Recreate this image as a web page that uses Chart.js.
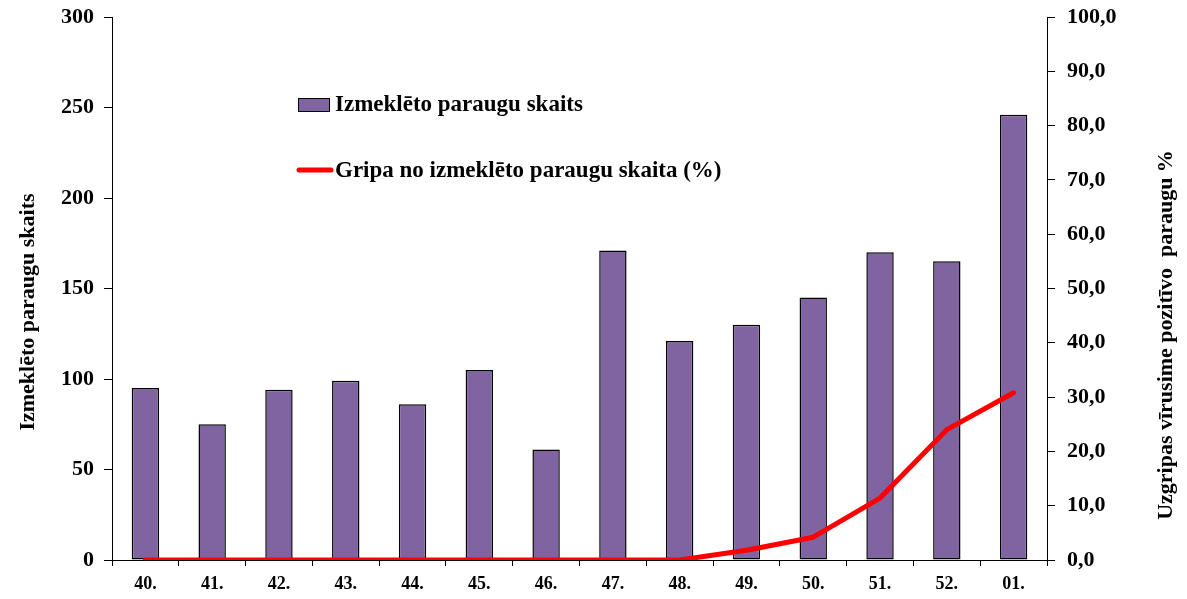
<!DOCTYPE html>
<html>
<head>
<meta charset="utf-8">
<script src="https://cdn.jsdelivr.net/npm/chart.js@4"></script>
<style>
html, body { margin: 0; padding: 0; background: #fff; }
#wrap { position: relative; width: 1187px; height: 599px; }
</style>
</head>
<body>
<div id="wrap"><canvas id="chart" width="1187" height="599"></canvas></div>
<script>
var weeks = ["40.", "41.", "42.", "43.", "44.", "45.", "46.", "47.", "48.", "49.", "50.", "51.", "52.", "01."];
var samples = [95, 75, 94, 99, 86, 105, 61, 171, 121, 130, 145, 170, 165, 246];
var positivePct = [0, 0, 0, 0, 0, 0, 0, 0, 0, 1.8, 4.2, 11.4, 24.0, 30.8];
var seriesNames = ["Izmeklēto paraugu skaits", "Gripa no izmeklēto paraugu skaita (%)"];
var leftTitle = "Izmeklēto paraugu skaits";
var rightTitle = "Uzgripas vīrusime pozitīvo  paraugu %";

var serif = '"Liberation Serif", "Times New Roman", serif';

// axis titles and in-plot legend
var extras = {
  id: 'extras',
  afterDraw: function(chart) {
    var c = chart.ctx;
    c.save();
    c.fillStyle = '#000';
    c.textBaseline = 'middle';
    c.font = 'bold 22px ' + serif;
    c.textAlign = 'center';
    c.save();
    c.translate(28, 312);
    c.rotate(-Math.PI / 2);
    c.fillText(leftTitle, 0, 0);
    c.restore();
    c.save();
    c.translate(1166, 335);
    c.rotate(-Math.PI / 2);
    c.fillText(rightTitle, 0, 0);
    c.restore();

    // legend
    c.textAlign = 'left';
    c.font = 'bold 23px ' + serif;
    c.fillStyle = '#8064A2';
    c.fillRect(298, 98, 32, 14);
    c.strokeStyle = '#000';
    c.lineWidth = 1;
    c.strokeRect(298.5, 98.5, 31, 13);
    c.fillStyle = '#000';
    c.fillText(seriesNames[0], 335, 105);
    c.strokeStyle = '#FF0000';
    c.lineWidth = 5;
    c.lineCap = 'round';
    c.beginPath();
    c.moveTo(299, 170);
    c.lineTo(331, 170);
    c.stroke();
    c.fillText(seriesNames[1], 335, 171);
    c.restore();
  }
};

function noPad(s) {
  s.paddingTop = 0;
  s.paddingBottom = 0;
}

new Chart(document.getElementById('chart'), {
  type: 'bar',
  data: {
    labels: weeks,
    datasets: [{
      type: 'line',
      label: seriesNames[1],
      data: positivePct,
      yAxisID: 'y2',
      borderColor: '#FF0000',
      borderWidth: 5,
      borderCapStyle: 'round',
      borderJoinStyle: 'round',
      pointRadius: 0,
      tension: 0,
      fill: false,
      order: 0
    }, {
      label: seriesNames[0],
      data: samples,
      yAxisID: 'y',
      backgroundColor: '#8064A2',
      borderColor: '#000',
      borderWidth: 1.5,
      borderSkipped: false,
      categoryPercentage: 1,
      barPercentage: 0.41,
      order: 1
    }]
  },
  options: {
    responsive: false,
    animation: false,
    layout: { padding: { top: 17, left: 0, right: 0, bottom: 0 } },
    plugins: { legend: { display: false }, tooltip: { enabled: false } },
    scales: {
      x: {
        offset: true,
        grid: { offset: true, drawOnChartArea: false, drawTicks: true, tickLength: 6, color: '#000' },
        border: { display: true, color: '#000', width: 1 },
        ticks: { color: '#000', font: { family: serif, size: 18, weight: 'bold' }, padding: 8, maxRotation: 0 },
        afterFit: function(s) { s.height = 39; }
      },
      y: {
        position: 'left',
        min: 0, max: 300,
        grid: { drawOnChartArea: false, drawTicks: true, tickLength: 8, color: '#000' },
        border: { display: true, color: '#000', width: 1 },
        ticks: { stepSize: 50, color: '#000', font: { family: serif, size: 22, weight: 'bold' }, padding: 10 },
        afterFit: function(s) { s.width = 112; noPad(s); }
      },
      y2: {
        position: 'right',
        min: 0, max: 100,
        grid: { drawOnChartArea: false, drawTicks: true, tickLength: 8, color: '#000' },
        border: { display: true, color: '#000', width: 1 },
        ticks: {
          stepSize: 10, color: '#000', font: { family: serif, size: 22, weight: 'bold' }, padding: 12,
          callback: function(v) { return v.toFixed(1).replace('.', ','); }
        },
        afterFit: function(s) { s.width = 140; noPad(s); }
      }
    }
  },
  plugins: [extras]
});
</script>
</body>
</html>
